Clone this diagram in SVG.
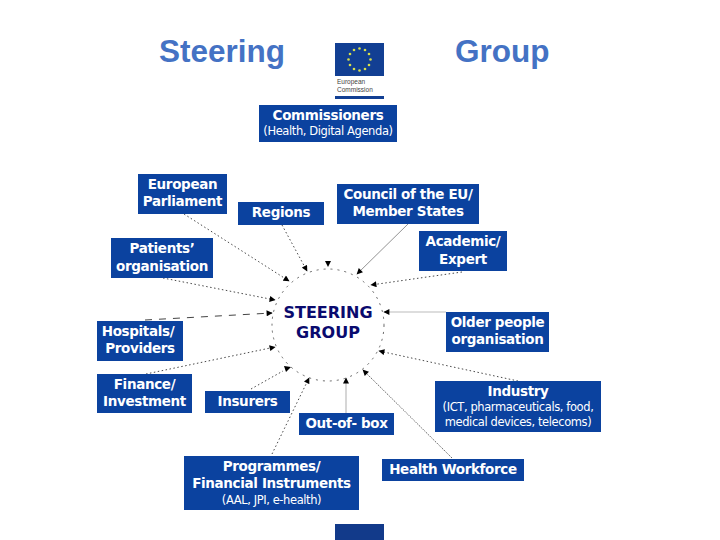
<svg xmlns="http://www.w3.org/2000/svg" width="720" height="540" viewBox="0 0 720 540">
<defs>
<marker id="ah" viewBox="0 0 10 10" refX="9" refY="5" markerWidth="7" markerHeight="6" markerUnits="userSpaceOnUse" orient="auto"><path d="M0 0L10 5L0 10z" fill="#000"/></marker>
</defs>
<style>
.b{fill:#0b429f}
.t{font-family:"DejaVu Sans",Verdana,sans-serif;font-weight:700;font-size:13.5px;letter-spacing:-.35px;fill:#fff;text-anchor:middle}
.s{font-family:"DejaVu Sans",Verdana,sans-serif;font-size:11.5px;letter-spacing:-.4px;fill:#fff;text-anchor:middle}
.h{font-family:"Liberation Sans",Arial,sans-serif;font-weight:700;font-size:31.5px;fill:#4472c4}
.d{fill:none;stroke:#333;stroke-width:.9;stroke-dasharray:1.5 2.5;marker-end:url(#ah)}
.g{fill:none;stroke:#bbb;stroke-width:1.2;marker-end:url(#ah)}
.c{fill:none;stroke:#555;stroke-width:.9;stroke-dasharray:2 5}
.m{font-family:"DejaVu Sans",Verdana,sans-serif;font-weight:700;font-size:16px;fill:#0a0a6e;text-anchor:middle}
</style>
<rect width="720" height="540" fill="#fff"/>
<text class="h" x="159" y="62">Steering</text>
<text class="h" x="455" y="62">Group</text>
<g id="logo">
<rect x="335" y="43" width="49" height="33" fill="#123f93"/>
<g fill="#d8e04a"><circle cx="359.5" cy="48.500" r="1.300"/><circle cx="365" cy="50" r="1.300"/><circle cx="369" cy="54" r="1.300"/><circle cx="370.500" cy="59.500" r="1.300"/><circle cx="369" cy="65" r="1.300"/><circle cx="365" cy="69" r="1.300"/><circle cx="359.500" cy="70.500" r="1.300"/><circle cx="354" cy="69" r="1.300"/><circle cx="350" cy="65" r="1.300"/><circle cx="348.500" cy="59.500" r="1.300"/><circle cx="350" cy="54" r="1.300"/><circle cx="354" cy="50" r="1.300"/></g>
<text x="337" y="84" font-family="Liberation Sans,Arial,sans-serif" font-size="6.500" fill="#444">European</text>
<text x="337" y="92" font-family="Liberation Sans,Arial,sans-serif" font-size="6.500" fill="#444">Commission</text>
<rect x="335" y="96" width="49" height="3" fill="#123f93"/>
</g>
<g id="connectors">
<circle class="c" cx="328" cy="325" r="56"/>
<path class="d" d="M184 214L289 281"/>
<path class="d" d="M282 225L307 271"/>
<path d="M408 224L357 274" fill="none" stroke="#777" stroke-width=".8" marker-end="url(#ah)"/>
<path class="d" d="M462 272L371 285"/>
<path class="g" d="M446 312L384 312"/>
<path class="d" d="M518 381L379 351"/>
<path d="M452 458L363 370" fill="none" stroke="#444" stroke-width=".8" stroke-dasharray="1.500 1" marker-end="url(#ah)"/>
<path class="g" d="M346 413L346 378"/>
<path class="d" d="M272 454L309 378"/>
<path class="d" d="M251 389L283 371" style="marker-end:none"/>
<path d="M284 366L291 367L286 372z" fill="#000"/>
<path class="d" d="M146 374L275 347"/>
<path d="M145 320L272 313" fill="none" stroke="#444" stroke-width="1" stroke-dasharray="7 7" marker-end="url(#ah)"/>
<path class="d" d="M163 278L275 300"/>
<path d="M325 261L331 261L328 267z" fill="#000"/>
</g>
<g id="steering-group"><text class="m" x="328" y="318">STEERING</text><text class="m" x="328" y="338">GROUP</text></g>
<g id="commissioners"><rect class="b" x="259" y="105" width="138" height="37"/><text class="t" x="328" y="120">Commissioners</text><text class="s" x="328" y="135">(Health, Digital Agenda)</text></g>
<g id="european-parliament"><rect class="b" x="138" y="174" width="89" height="40"/><text class="t" x="182.500" y="189">European</text><text class="t" x="182.500" y="206">Parliament</text></g>
<g id="regions"><rect class="b" x="238" y="202" width="86" height="23"/><text class="t" x="281" y="217">Regions</text></g>
<g id="council"><rect class="b" x="337" y="184" width="142" height="40"/><text class="t" x="408" y="199">Council of the EU/</text><text class="t" x="408" y="216">Member States</text></g>
<g id="academic"><rect class="b" x="419" y="231" width="88" height="40"/><text class="t" x="463" y="246">Academic/</text><text class="t" x="463" y="264">Expert</text></g>
<g id="patients"><rect class="b" x="111" y="238" width="102" height="40"/><text class="t" x="162" y="253">Patients’</text><text class="t" x="162" y="271">organisation</text></g>
<g id="older-people"><rect class="b" x="446" y="312" width="103" height="40"/><text class="t" x="497.500" y="327">Older people</text><text class="t" x="497.500" y="344">organisation</text></g>
<g id="hospitals"><rect class="b" x="97" y="321" width="86" height="40"/><text class="t" x="138" y="336">Hospitals/</text><text class="t" x="140" y="353">Providers</text></g>
<g id="finance"><rect class="b" x="97" y="374" width="95" height="39"/><text class="t" x="144.500" y="389">Finance/</text><text class="t" x="144.500" y="406">Investment</text></g>
<g id="insurers"><rect class="b" x="205" y="391" width="85" height="22"/><text class="t" x="247.500" y="406">Insurers</text></g>
<g id="out-of-box"><rect class="b" x="299" y="413" width="95" height="22"/><text class="t" x="346.500" y="428">Out-of- box</text></g>
<g id="industry"><rect class="b" x="435" y="381" width="166" height="51"/><text class="t" x="518" y="396">Industry</text><text class="s" x="518" y="411">(ICT, pharmaceuticals, food,</text><text class="s" x="518" y="426">medical devices, telecoms)</text></g>
<g id="health-workforce"><rect class="b" x="382" y="459" width="142" height="22"/><text class="t" x="453" y="474">Health Workforce</text></g>
<g id="programmes"><rect class="b" x="184" y="456" width="175" height="54"/><text class="t" x="271.500" y="471">Programmes/</text><text class="t" x="271.500" y="488">Financial Instruments</text><text class="s" x="271.500" y="504">(AAL, JPI, e-health)</text></g>
<rect x="335" y="524" width="49" height="16" fill="#123a8a"/>
</svg>
